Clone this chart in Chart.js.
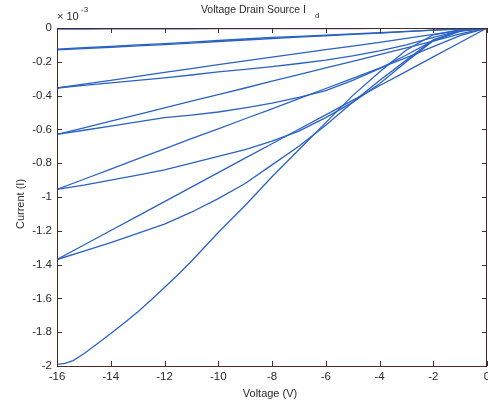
<!DOCTYPE html>
<html><head><meta charset="utf-8">
<script src="https://cdn.jsdelivr.net/npm/chart.js@4.4.1/dist/chart.umd.min.js"></script>
<style>html,body{margin:0;padding:0;background:#fff;}#wrap{width:488px;height:404px;position:relative;}</style>
</head><body><div id="wrap"><canvas id="c" width="488" height="404"></canvas></div>
<script>
// Voltage (V) sample points
const voltage = [-16,-15,-14,-13,-12,-11,-10,-9,-8,-7,-6,-5,-4,-3,-2,-1,0];
// Current values (x 10^-3)
const curA  = [-0.006,-0.006,-0.005,-0.005,-0.005,-0.005,-0.004,-0.004,-0.004,-0.003,-0.003,-0.003,-0.002,-0.002,-0.001,-0.001,0];
const curB1 = [-0.125,-0.117,-0.109,-0.100,-0.092,-0.083,-0.074,-0.065,-0.056,-0.049,-0.042,-0.035,-0.028,-0.020,-0.012,-0.005,0];
const curB2 = [-0.130,-0.122,-0.114,-0.106,-0.098,-0.089,-0.080,-0.071,-0.062,-0.054,-0.046,-0.038,-0.030,-0.022,-0.013,-0.006,0];
const curC1 = [-0.355,-0.332,-0.310,-0.286,-0.263,-0.240,-0.217,-0.194,-0.172,-0.150,-0.128,-0.107,-0.085,-0.062,-0.038,-0.015,0];
const curC2 = [-0.355,-0.340,-0.325,-0.310,-0.295,-0.278,-0.260,-0.245,-0.228,-0.210,-0.190,-0.165,-0.135,-0.100,-0.055,-0.015,0];
const curD1 = [-0.630,-0.591,-0.551,-0.512,-0.473,-0.433,-0.394,-0.355,-0.315,-0.276,-0.236,-0.197,-0.157,-0.118,-0.078,-0.035,0];
const curD2 = [-0.630,-0.605,-0.580,-0.555,-0.530,-0.515,-0.497,-0.472,-0.445,-0.410,-0.370,-0.310,-0.240,-0.160,-0.075,-0.020,0];
const curE1 = [-0.955,-0.895,-0.835,-0.775,-0.715,-0.655,-0.597,-0.537,-0.478,-0.418,-0.358,-0.298,-0.238,-0.175,-0.110,-0.045,0];
const curE2 = [-0.955,-0.930,-0.900,-0.870,-0.840,-0.800,-0.760,-0.720,-0.670,-0.610,-0.530,-0.440,-0.330,-0.200,-0.075,-0.015,0];
const curF1 = [-1.370,-1.284,-1.198,-1.113,-1.027,-0.942,-0.856,-0.770,-0.685,-0.599,-0.514,-0.428,-0.342,-0.257,-0.171,-0.086,0];
const curF2 = [-1.370,-1.320,-1.270,-1.215,-1.160,-1.090,-1.010,-0.920,-0.810,-0.700,-0.575,-0.440,-0.310,-0.190,-0.070,-0.015,0];
// lowest curve, sampled more finely
const voltageG = [-16,-15.7,-15.4,-15,-14.5,-14,-13.5,-13,-12.5,-12,-11.5,-11,-10,-9,-8,-7,-6,-5,-4,-3,-2,-1,0];
const curG     = [-1.990,-1.985,-1.968,-1.928,-1.868,-1.808,-1.745,-1.680,-1.610,-1.535,-1.460,-1.380,-1.210,-1.050,-0.880,-0.720,-0.560,-0.400,-0.260,-0.130,-0.040,-0.010,0];
const seriesList = [curA,curB1,curB2,curC1,curC2,curD1,curD2,curE1,curE2,curF1,curF2];
// Tick labels
const xTicks = [-16,-14,-12,-10,-8,-6,-4,-2,0];
const yTicks = [0,-0.2,-0.4,-0.6,-0.8,-1,-1.2,-1.4,-1.6,-1.8,-2];

const AXIS = '#4a2a22';
const TXT = '#2a2a2a';
const LINE = '#2a62c4';
const FONT = '"Liberation Sans", Arial, sans-serif';

const mk = (xs, ys) => ({
  data: xs.map((v,i) => ({x:v, y:ys[i]})),
  borderColor: LINE, borderWidth: 1.3, pointRadius: 0, tension: 0, fill: false, showLine: true
});
const datasets = seriesList.map(s => mk(voltage, s));
datasets.push(mk(voltageG, curG));

const boxPlugin = {
  id: 'box',
  afterDraw(chart) {
    const ctx = chart.ctx, xs = chart.scales.x, ys = chart.scales.y;
    const {left, right, top, bottom} = chart.chartArea;
    ctx.save();
    ctx.strokeStyle = AXIS; ctx.lineWidth = 1;
    ctx.strokeRect(Math.round(left)+0.5, Math.round(top)+0.5, Math.round(right-left)-1, Math.round(bottom-top));
    ctx.beginPath();
    xTicks.forEach(v => {
      const p = Math.round(xs.getPixelForValue(v)) + 0.5;
      ctx.moveTo(p, bottom); ctx.lineTo(p, bottom-5);
      ctx.moveTo(p, top); ctx.lineTo(p, top+5);
    });
    yTicks.forEach(v => {
      const p = Math.round(ys.getPixelForValue(v)) + 0.5;
      ctx.moveTo(left, p); ctx.lineTo(left+5, p);
      ctx.moveTo(right, p); ctx.lineTo(right-5, p);
    });
    ctx.stroke();
    // texts
    ctx.fillStyle = TXT;
    ctx.font = '10.5px ' + FONT;
    ctx.textBaseline = 'middle';
    ctx.textAlign = 'right';
    ctx.fillText('Voltage Drain Source I', 306, 10);
    ctx.textAlign = 'left';
    ctx.font = '8px ' + FONT;
    ctx.fillText('d', 315, 16);
    ctx.font = '11px ' + FONT;
    ctx.fillText('\u00d7 10', 57, 17);
    ctx.font = '8px ' + FONT;
    ctx.fillText('-3', 81, 10);
    ctx.font = '11px ' + FONT;
    ctx.textAlign = 'center';
    ctx.fillText('Voltage (V)', 270, 394);
    ctx.translate(21, 204);
    ctx.rotate(-Math.PI/2);
    ctx.fillText('Current (I)', 0, 0);
    ctx.restore();
  }
};

new Chart(document.getElementById('c'), {
  type: 'scatter',
  data: { datasets },
  options: {
    responsive: false, animation: false, devicePixelRatio: 1,
    layout: { padding: { left: 0, right: 1, top: 28, bottom: 0 } },
    plugins: { legend: { display: false }, tooltip: { enabled: false }, title: { display: false } },
    scales: {
      x: {
        type: 'linear', min: -16, max: 0,
        grid: { display: false, drawTicks: false, tickLength: 0 }, border: { display: false },
        afterBuildTicks: s => { s.ticks = xTicks.map(v => ({value: v})); },
        ticks: { color: TXT, font: { family: FONT, size: 11.5 }, padding: 4, maxRotation: 0, autoSkip: false, callback: v => String(v) },
        afterFit: s => { s.height = 38; s.paddingLeft = 0; s.paddingRight = 0; }
      },
      y: {
        type: 'linear', min: -2, max: 0,
        grid: { display: false, drawTicks: false, tickLength: 0 }, border: { display: false },
        afterBuildTicks: s => { s.ticks = yTicks.map(v => ({value: v})); },
        ticks: { color: TXT, font: { family: FONT, size: 11.5 }, padding: 5, autoSkip: false, callback: v => String(v) },
        afterFit: s => { s.width = 57; s.paddingTop = 0; s.paddingBottom = 0; }
      }
    }
  },
  plugins: [boxPlugin]
});
</script></body></html>
